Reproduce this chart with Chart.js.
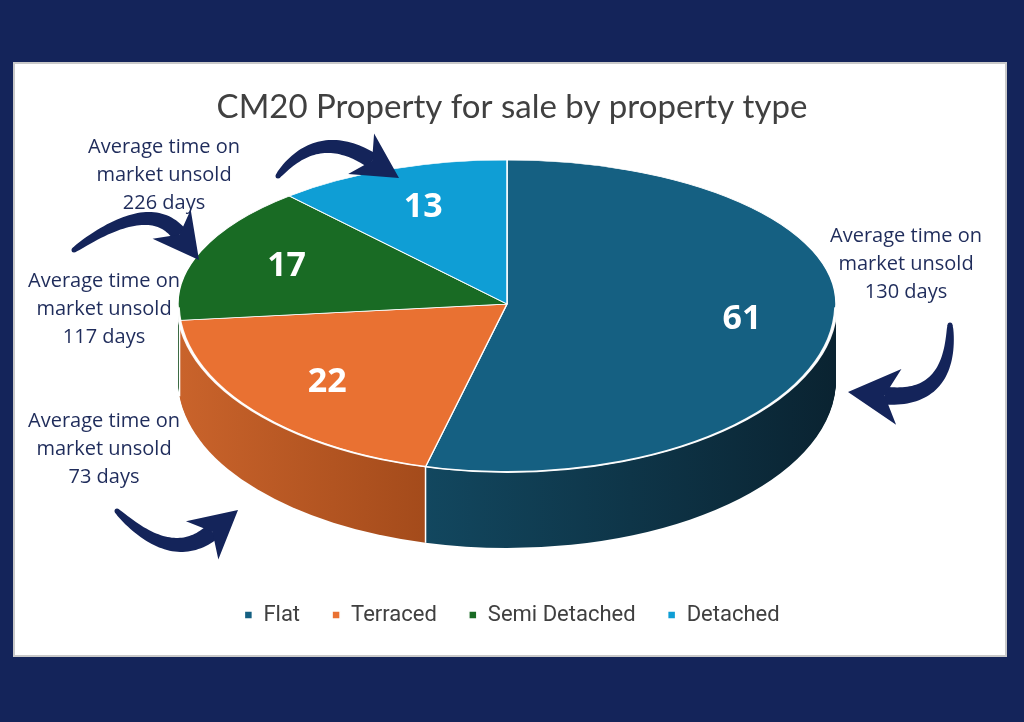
<!DOCTYPE html>
<html>
<head>
<meta charset="utf-8">
<title>CM20 Property for sale by property type</title>
<script src="https://cdn.jsdelivr.net/npm/chart.js@4.4.1/dist/chart.umd.min.js"></script>
<style>
  html, body { margin: 0; padding: 0; background: #14245a; }
  #wrap { position: relative; width: 1024px; height: 722px; overflow: hidden; }
  #panel { position: absolute; left: 13px; top: 62px; width: 990px; height: 591px;
           background: #ffffff; border: 2px solid #c9c9c9; }
  #chart { position: absolute; left: 0; top: 0; }
</style>
</head>
<body>
<div id="wrap">
  <div id="panel"></div>
  <canvas id="chart" width="1024" height="722"></canvas>
</div>
<script>
// data
const propertyTypes = ['Flat', 'Terraced', 'Semi Detached', 'Detached'];
const listings = [61, 22, 17, 13];
const daysUnsold = [130, 73, 117, 226];

const topColors = ['#156082', '#e97132', '#196b24', '#0f9ed5'];
const sideColors = [['#12475f', '#0a2331'], ['#c9632b', '#a44b1b'], ['#12501b', '#0c3a13'], ['#0b7aa6', '#085a7a']];
const navy = '#14245a';

// where the tilted pie sits on the page
const CX = 507, CY = 304;
const R = 329;
const KT = 144 / R;   // squash of the far half
const KB = 168 / R;   // squash of the near half
const DEPTH = 76;

function halfTransform(ctx, el, k, dy) {
  ctx.translate(CX, CY + dy);
  ctx.scale(1, k);
  ctx.translate(-el.x, -el.y);
}

const pie3d = {
  id: 'pie3d',
  beforeDatasetsDraw(chart) {
    const ctx = chart.ctx;
    const W = chart.width, H = chart.height;
    const arcs = chart.getDatasetMeta(0).data;

    // side wall: stack of shifted near halves
    const grads = arcs.map((el, i) => {
      const a0 = Math.max(el.startAngle, 0), a1 = Math.min(el.endAngle, Math.PI);
      let x0 = el.x - R, x1 = el.x + R;
      if (a1 > a0) { x0 = el.x + R * Math.cos(a1); x1 = el.x + R * Math.cos(a0); }
      const g = ctx.createLinearGradient(x0, 0, x1, 0);
      g.addColorStop(0, sideColors[i][0]);
      g.addColorStop(1, sideColors[i][1]);
      return g;
    });
    for (let d = DEPTH; d >= 1; d--) {
      arcs.forEach((el, i) => {
        ctx.save();
        ctx.beginPath();
        ctx.rect(0, CY + d, W, H);
        ctx.clip();
        halfTransform(ctx, el, KB, d);
        ctx.beginPath();
        ctx.moveTo(el.x, el.y);
        ctx.arc(el.x, el.y, el.outerRadius, el.startAngle, el.endAngle);
        ctx.closePath();
        ctx.fillStyle = grads[i];
        ctx.fill();
        ctx.restore();
      });
    }

    // seams on the side wall
    ctx.save();
    ctx.strokeStyle = '#ffffff';
    ctx.lineWidth = 1.5;
    arcs.forEach(el => {
      const a = el.endAngle;
      if (a > 0 && a < Math.PI) {
        const x = CX + R * Math.cos(a), y = CY + KB * R * Math.sin(a);
        ctx.beginPath();
        ctx.moveTo(x, y);
        ctx.lineTo(x, y + DEPTH);
        ctx.stroke();
      }
    });
    ctx.restore();

    // top surface, far half then near half
    [[0, CY, KT], [CY, H, KB]].forEach(([y0, y1, k]) => {
      ctx.save();
      ctx.beginPath();
      ctx.rect(0, y0, W, y1 - y0);
      ctx.clip();
      arcs.forEach(el => {
        ctx.save();
        halfTransform(ctx, el, k, 0);
        el.draw(ctx);
        ctx.restore();
      });
      ctx.restore();
    });

    // light rim on the near edge
    ctx.save();
    ctx.beginPath();
    ctx.rect(0, CY, W, H);
    ctx.clip();
    halfTransform(ctx, arcs[0], KB, 0);
    ctx.beginPath();
    ctx.arc(arcs[0].x, arcs[0].y, R, 0.02, Math.PI - 0.02);
    ctx.strokeStyle = 'rgba(255,255,255,0.95)';
    ctx.lineWidth = 3.5;
    ctx.stroke();
    ctx.restore();

    // value labels
    ctx.save();
    ctx.fillStyle = '#ffffff';
    ctx.font = 'bold 34px "Open Sans"';
    ctx.textAlign = 'center';
    ctx.textBaseline = 'middle';
    arcs.forEach((el, i) => {
      const a = (el.startAngle + el.endAngle) / 2;
      const r = el.outerRadius * 0.72;
      const s = Math.sin(a);
      const x = CX + Math.cos(a) * r;
      const y = CY + s * r * (s < 0 ? KT : KB);
      ctx.fillText(String(listings[i]), x, y);
    });
    ctx.restore();
    return false;
  }
};

function drawArrow(ctx, tail, ctrl, tip, headLen, headHalf, bodyW) {
  const dx = tip[0] - ctrl[0], dy = tip[1] - ctrl[1];
  const len = Math.hypot(dx, dy);
  const ux = dx / len, uy = dy / len;
  const px = -uy, py = ux;
  const base = [tip[0] - ux * headLen * 0.8, tip[1] - uy * headLen * 0.8];
  const left = [], right = [];
  const n = 40;
  for (let j = 0; j <= n; j++) {
    const t = j / n, m = 1 - t;
    const x = m * m * tail[0] + 2 * m * t * ctrl[0] + t * t * base[0];
    const y = m * m * tail[1] + 2 * m * t * ctrl[1] + t * t * base[1];
    const tx = 2 * m * (ctrl[0] - tail[0]) + 2 * t * (base[0] - ctrl[0]);
    const ty = 2 * m * (ctrl[1] - tail[1]) + 2 * t * (base[1] - ctrl[1]);
    const tl = Math.hypot(tx, ty);
    const w = (5 + (bodyW - 5) * Math.pow(t, 0.6)) / 2;
    left.push([x - ty / tl * w, y + tx / tl * w]);
    right.push([x + ty / tl * w, y - tx / tl * w]);
  }
  ctx.beginPath();
  ctx.moveTo(left[0][0], left[0][1]);
  left.forEach(p => ctx.lineTo(p[0], p[1]));
  for (let j = right.length - 1; j >= 0; j--) ctx.lineTo(right[j][0], right[j][1]);
  ctx.closePath();
  ctx.fill();
  ctx.beginPath();
  ctx.arc(tail[0], tail[1], 2.5, 0, Math.PI * 2);
  ctx.fill();
  const hb = [tip[0] - ux * headLen, tip[1] - uy * headLen];
  ctx.beginPath();
  ctx.moveTo(tip[0], tip[1]);
  ctx.lineTo(hb[0] + px * headHalf - ux * 5, hb[1] + py * headHalf - uy * 5);
  ctx.lineTo(base[0], base[1]);
  ctx.lineTo(hb[0] - px * headHalf - ux * 5, hb[1] - py * headHalf - uy * 5);
  ctx.closePath();
  ctx.fill();
}

const notes = {
  id: 'notes',
  afterDraw(chart) {
    const ctx = chart.ctx;
    // text block centre and first line, one per slice
    const spots = [[906, 236], [104, 421], [104, 281], [164, 147]];
    ctx.save();
    ctx.fillStyle = '#1f2c5b';
    ctx.font = '20px "Open Sans"';
    ctx.textAlign = 'center';
    ctx.textBaseline = 'middle';
    daysUnsold.forEach((d, i) => {
      const [x, y] = spots[i];
      ['Average time on', 'market unsold', d + ' days'].forEach((line, j) => {
        ctx.fillText(line, x, y + j * 28);
      });
    });
    ctx.fillStyle = navy;
    drawArrow(ctx, [950, 325], [952, 402], [848, 392], 46, 28, 18);
    drawArrow(ctx, [117, 511], [172, 566], [238, 510], 42, 25, 17);
    drawArrow(ctx, [74, 250], [150, 196], [199, 260], 40, 24, 16);
    drawArrow(ctx, [278, 176], [318, 126], [399, 178], 40, 24, 16);
    ctx.restore();
  }
};

new Chart(document.getElementById('chart'), {
  type: 'pie',
  data: {
    labels: propertyTypes,
    datasets: [{
      data: listings,
      backgroundColor: topColors,
      borderColor: '#ffffff',
      borderWidth: 1.5,
      radius: R
    }]
  },
  options: {
    responsive: false,
    animation: false,
    layout: { padding: { top: 62, bottom: 86 } },
    plugins: {
      title: {
        display: true,
        text: 'CM20 Property for sale by property type',
        color: '#404040',
        font: { family: 'Lato', size: 33, weight: 'normal' },
        padding: { top: 26, bottom: 10 }
      },
      legend: {
        position: 'bottom',
        labels: {
          usePointStyle: true,
          pointStyle: 'rect',
          boxWidth: 8,
          boxHeight: 8,
          padding: 32,
          color: '#404040',
          font: { family: 'Roboto', size: 22 }
        }
      },
      tooltip: { enabled: false }
    }
  },
  plugins: [pie3d, notes]
});
</script>
</body>
</html>
